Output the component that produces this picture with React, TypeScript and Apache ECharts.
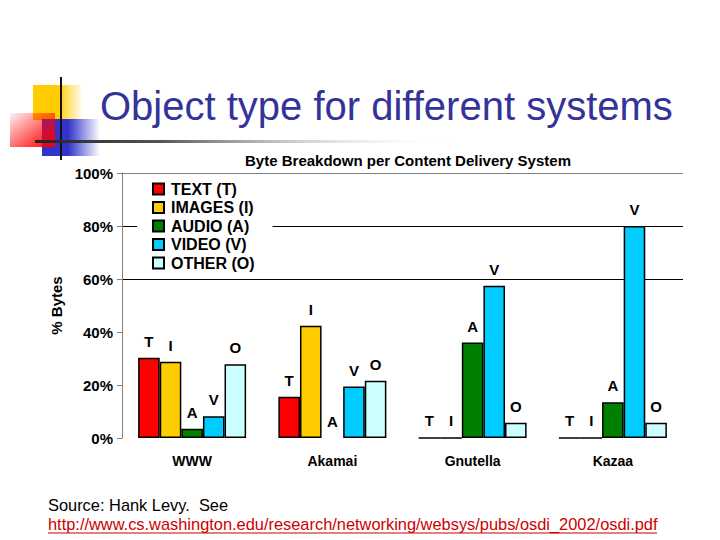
import { useEffect, useRef } from "react";
import * as echarts from "echarts";

// Content delivery systems on the x axis
const systems = ["WWW", "Akamai", "Gnutella", "Kazaa"];

// Share of bytes (%) per object type, one value per system
const textShare = [30.3, 15.6, 0, 0];
const imageShare = [28.8, 42.4, 0, 0];
const audioShare = [3.5, 0, 36.0, 13.5];
const videoShare = [8.2, 19.4, 57.5, 80.0];
const otherShare = [27.8, 21.6, 5.8, 5.8];

const seriesNames = ["TEXT (T)", "IMAGES (I)", "AUDIO (A)", "VIDEO (V)", "OTHER (O)"];
const seriesLetters = ["T", "I", "A", "V", "O"];
const seriesColors = ["#ff0000", "#ffcc00", "#008000", "#00ccff", "#ccffff"];

const yTicks = [0, 20, 40, 60, 80, 100];

const FONT = "'Liberation Sans', Arial, sans-serif";

export default function App() {
  const chartRef = useRef<HTMLDivElement>(null);

  useEffect(() => {
    if (!chartRef.current) return;
    const chart = echarts.init(chartRef.current, null, { renderer: "svg" });

    const shares = [textShare, imageShare, audioShare, videoShare, otherShare];

    chart.setOption({
      animation: false,
      backgroundColor: "#ffffff",
      title: {
        text: "Byte Breakdown per Content Delivery System",
        left: 403,
        top: 148,
        textAlign: "center",
        textStyle: { fontFamily: FONT, fontSize: 15, fontWeight: "bold", color: "#000" },
      },
      legend: {
        data: seriesNames,
        orient: "vertical",
        left: 137,
        top: 178,
        padding: [3, 18, 3, 15],
        backgroundColor: "#ffffff",
        itemWidth: 11,
        itemHeight: 11,
        itemGap: 2.5,
        icon: "rect",
        textStyle: { fontFamily: FONT, fontSize: 16, fontWeight: "bold", color: "#000", lineHeight: 16, padding: [0, 0, 0, 2] },
      },
      grid: { left: 122, right: 37, top: 173, bottom: 102 },
      xAxis: {
        type: "category",
        data: systems,
        axisLine: { show: false },
        axisTick: { show: false },
        axisLabel: { margin: 16, fontFamily: FONT, fontSize: 14, fontWeight: "bold", color: "#000" },
      },
      yAxis: {
        type: "value",
        min: yTicks[0],
        max: yTicks[yTicks.length - 1],
        interval: 20,
        name: "% Bytes",
        nameLocation: "middle",
        nameGap: 53,
        nameTextStyle: { fontFamily: FONT, fontSize: 15, fontWeight: "bold", color: "#000" },
        axisLine: { show: true, lineStyle: { color: "#808080", width: 1 } },
        axisTick: { show: true, length: 5, lineStyle: { color: "#808080" } },
        axisLabel: {
          formatter: "{value}%",
          margin: 9,
          fontFamily: FONT,
          fontSize: 15,
          fontWeight: "bold",
          color: "#000",
        },
        splitLine: {
          show: true,
          lineStyle: {
            color: ["rgba(0,0,0,0)", "rgba(0,0,0,0)", "rgba(0,0,0,0)", "#000000", "#000000", "#808080"],
            width: 1,
          },
        },
      },
      series: seriesNames.map((name, i) => ({
        name,
        type: "bar",
        // the empty audio bar (Akamai) shows no baseline in the original
        data: shares[i].map((v) =>
          i === 2 && v === 0 ? { value: v, itemStyle: { borderWidth: 0 } } : v
        ),
        barGap: "0%",
        barCategoryGap: "23%",
        itemStyle: { color: seriesColors[i], borderColor: "#000", borderWidth: 1.5 },
        label: {
          show: true,
          position: "top",
          distance: 9,
          formatter: () => seriesLetters[i],
          fontFamily: FONT,
          fontSize: 15,
          fontWeight: "bold",
          color: "#000",
        },
      })),
      graphic: [
        // slide logo blocks
        {
          type: "rect",
          shape: { x: 33, y: 85, width: 50, height: 35 },
          style: {
            fill: new echarts.graphic.LinearGradient(0, 0, 1, 0, [
              { offset: 0, color: "#ffcc00" },
              { offset: 0.5, color: "#ffcc00" },
              { offset: 1, color: "rgba(255,204,0,0)" },
            ]),
          },
        },
        {
          type: "rect",
          shape: { x: 42, y: 119, width: 58, height: 37 },
          style: {
            fill: new echarts.graphic.LinearGradient(0, 0, 1, 0, [
              { offset: 0, color: "#3333cc" },
              { offset: 0.45, color: "#3333cc" },
              { offset: 1, color: "rgba(51,51,204,0)" },
            ]),
          },
        },
        {
          type: "rect",
          shape: { x: 10, y: 113, width: 45, height: 34 },
          style: {
            fill: new echarts.graphic.LinearGradient(0, 0, 1, 1, [
              { offset: 0, color: "rgba(255,0,0,0.05)" },
              { offset: 0.7, color: "rgba(255,0,0,0.75)" },
              { offset: 1, color: "#ff0000" },
            ]),
          },
        },
        {
          type: "line",
          shape: { x1: 61, y1: 77, x2: 61, y2: 160 },
          style: { stroke: "#111", lineWidth: 2 },
        },
        {
          type: "rect",
          shape: { x: 35, y: 140, width: 420, height: 3 },
          style: {
            fill: new echarts.graphic.LinearGradient(0, 0, 1, 0, [
              { offset: 0, color: "#222" },
              { offset: 0.3, color: "#555" },
              { offset: 1, color: "rgba(255,255,255,0)" },
            ]),
          },
        },
        {
          type: "text",
          x: 100,
          y: 86,
          style: {
            text: "Object type for different systems",
            fontFamily: FONT,
            fontSize: 40,
            fill: "#333399",
          },
        },
        // source note
        {
          type: "text",
          x: 48,
          y: 497,
          style: { text: "Source: Hank Levy.  See", fontFamily: FONT, fontSize: 16.4, fill: "#000" },
        },
        {
          type: "text",
          x: 48,
          y: 516,
          style: {
            text: "http://www.cs.washington.edu/research/networking/websys/pubs/osdi_2002/osdi.pdf",
            fontFamily: FONT,
            fontSize: 16.4,
            fill: "#cc0000",
          },
        },
        {
          type: "line",
          shape: { x1: 48, y1: 533, x2: 657, y2: 533 },
          style: { stroke: "#cc0000", lineWidth: 1 },
        },
      ],
    });

    return () => {
      chart.dispose();
    };
  }, []);

  return (
    <div
      ref={chartRef}
      style={{ position: "fixed", left: 0, top: 0, width: 720, height: 540 }}
    />
  );
}
